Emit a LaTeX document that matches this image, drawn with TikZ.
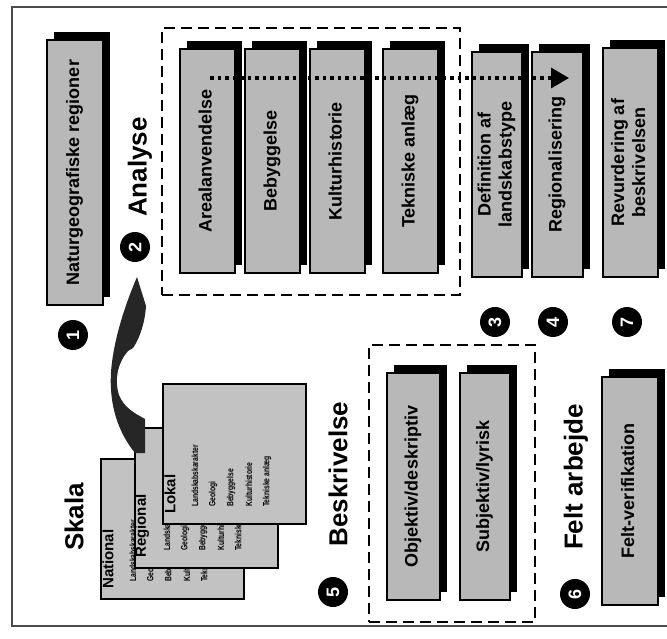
\documentclass[tikz,border=0pt]{standalone}
\usepackage{fontspec}
\setmainfont{Liberation Sans}
\usetikzlibrary{shadows,arrows.meta}
\definecolor{boxgray}{gray}{0.72}
\definecolor{cardgray}{gray}{0.76}
\definecolor{framegray}{gray}{0.3}
\newcommand{\rbox}[6]{%
  \node[boxstyle, minimum width={(#4-#2)*1pt}, minimum height={(#5-#3)*1pt}] (#1) at ({(#2+#4)/2},{(#3+#5)/2})
    {\rotatebox{90}{\begin{tabular}{@{}c@{}}#6\end{tabular}}};}
\newcommand{\citem}[1]{\scalebox{0.75}[1]{#1}}
\newcommand{\skcard}[4]{%
  \node[cardstyle, anchor=north west] (#1) at (#2,#3) {};
  \node[cardlabel, anchor=west] (#1lab) at ({#2+8},{#3+131}) {#4};
  \node[carditem] (#1ia) at ({#2+33},{#3+124}) {\citem{Landskabskarakter}};
  \node[carditem] (#1ib) at ({#2+51},{#3+124}) {\citem{Geologi}};
  \node[carditem] (#1ic) at ({#2+69},{#3+124}) {\citem{Bebyggelse}};
  \node[carditem] (#1id) at ({#2+87},{#3+124}) {\citem{Kulturhistorie}};
  \node[carditem] (#1ie) at ({#2+105},{#3+124}) {\citem{Tekniske anlæg}};}
\begin{document}
\begin{tikzpicture}[x=1pt,y=-1pt,
  boxstyle/.style={draw=black, line width=1.3pt, fill=boxgray, inner sep=0pt,
    font=\bfseries\fontsize{18}{21}\selectfont,
    drop shadow={shadow xshift=7pt, shadow yshift=8pt, fill=black, opacity=1}},
  dashbox/.style={draw=black, line width=1.4pt, dash pattern=on 11pt off 6pt, inner sep=0pt},
  numcirc/.style={circle, fill=black, minimum size=30pt, inner sep=0pt, text=white,
    font=\bfseries\fontsize{18}{18}\selectfont},
  biglabel/.style={rotate=90, inner sep=0pt, font=\bfseries\fontsize{26}{26}\selectfont},
  cardstyle/.style={draw=black, line width=1.5pt, fill=cardgray, minimum width=143pt, minimum height=140pt, inner sep=0pt},
  cardlabel/.style={rotate=90, inner sep=0pt, font=\bfseries\fontsize{15}{15}\selectfont},
  carditem/.style={rotate=90, anchor=west, inner sep=0pt, font=\bfseries\fontsize{9}{9}\selectfont},
  dotarrow/.style={line width=3.5pt, dash pattern=on 3.5pt off 4pt, -{Triangle[length=18pt,width=20pt]}},
  framestyle/.style={draw=framegray, line width=1.3pt}]
\useasboundingbox (0,0) rectangle (667,639);
% frame
\draw[framestyle] (667,7) -- (12,7) -- (12,626) -- (667,626);
% dashed groups
\node[dashbox, minimum width=298pt, minimum height=267pt] (analysegrp) at (311,161.5) {};
\node[dashbox, minimum width=166pt, minimum height=277pt] (beskrgrp) at (452,483.5) {};
% boxes
\rbox{natur}{47}{40}{103}{305}{Naturgeografiske regioner}
\rbox{areal}{180}{49}{235}{273}{Arealanvendelse}
\rbox{beb}{245}{49}{300}{273}{Bebyggelse}
\rbox{kult}{310}{49}{365}{273}{Kulturhistorie}
\rbox{tek}{383}{49}{438}{273}{Tekniske anlæg}
\rbox{def}{472}{52}{522}{277}{Definition af\\landskabstype}
\rbox{reg}{532}{52}{583}{277}{Regionalisering}
\rbox{rev}{603}{48}{658}{277}{Revurdering af\\beskrivelsen}
\rbox{obj}{387}{373}{440}{600}{Objektiv/deskriptiv}
\rbox{sub}{460}{373}{510}{600}{Subjektiv/lyrisk}
\rbox{felt}{602}{377}{658}{605}{Felt-verifikation}
% dotted arrow
\coordinate (dotA) at (210,78);
\coordinate (dotB) at (569,78);
\draw[dotarrow] (dotA) -- (dotB);
% numbers
\node[numcirc] (c1) at (73,335) {\rotatebox{90}{1}};
\node[numcirc] (c2) at (135,247) {\rotatebox{90}{2}};
\node[numcirc] (c3) at (495,322) {\rotatebox{90}{3}};
\node[numcirc] (c4) at (553,322) {\rotatebox{90}{4}};
\node[numcirc] (c7) at (627,322) {\rotatebox{90}{7}};
\node[numcirc] (c5) at (333,592) {\rotatebox{90}{5}};
\node[numcirc] (c6) at (575,594) {\rotatebox{90}{6}};
% labels
\node[biglabel] (lskala) at (74,517) {Skala};
\node[biglabel] (lanalyse) at (140,167) {Analyse};
\node[biglabel] (lbeskr) at (338,474) {Beskrivelse};
\node[biglabel] (lfelt) at (576,477) {Felt arbejde};
% scale cards
\skcard{national}{100}{458}{National}
\skcard{regional}{134}{427}{Regional}
\skcard{lokal}{162}{383}{Lokal}
% curved block arrow
\fill[black!85] (137,277) -- (146,306) .. controls (145,322) and (140,338) .. (133,348)
  -- (128,351) .. controls (118,362) and (114,380) .. (119,395)
  .. controls (124,408) and (136,414) .. (145,419) -- (145,453) -- (135,453)
  .. controls (118,432) and (109,405) .. (111,372)
  .. controls (113,345) and (122,312) .. (137,277) -- cycle;
\end{tikzpicture}
\end{document}
